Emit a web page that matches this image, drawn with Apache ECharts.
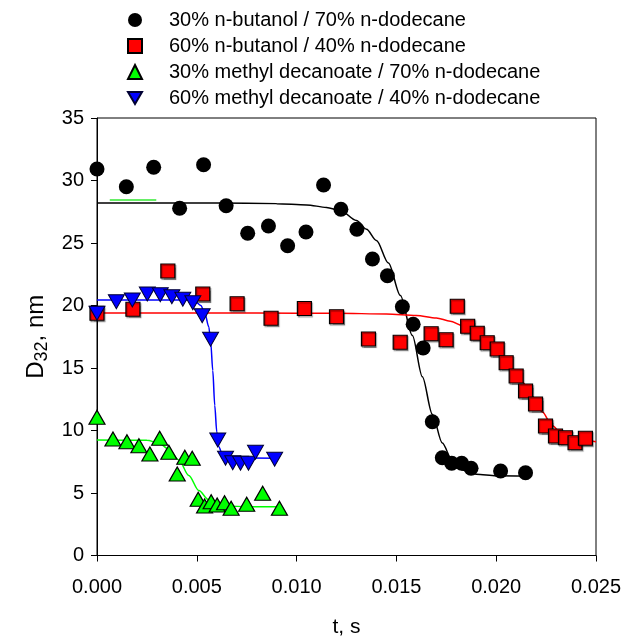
<!DOCTYPE html>
<html>
<head>
<meta charset="utf-8">
<script src="https://cdn.jsdelivr.net/npm/echarts@6/dist/echarts.min.js"></script>
<style>
html,body{margin:0;padding:0;background:#fff;}
#chart{width:623px;height:637px;}
</style>
</head>
<body>
<div id="chart"></div>
<script>
// ---- Data ----
var seriesNames = [
  '30% n-butanol / 70% n-dodecane',
  '60% n-butanol / 40% n-dodecane',
  '30% methyl decanoate / 70% n-dodecane',
  '60% methyl decanoate / 40% n-dodecane'
];

// 30% n-butanol (black circles)
var butanol30_t = [0, 0.00147, 0.00284, 0.00414, 0.00534, 0.00647, 0.00755, 0.00859, 0.00955, 0.01047, 0.01135, 0.01222, 0.01302, 0.0138, 0.01455, 0.0153, 0.01584, 0.01634, 0.0168, 0.0173, 0.01777, 0.01827, 0.01874, 0.02022, 0.02147];
var butanol30_D = [30.92, 29.5, 31.06, 27.78, 31.26, 27.98, 25.78, 26.36, 24.78, 25.88, 29.64, 27.7, 26.1, 23.72, 22.38, 19.9, 18.5, 16.6, 10.7, 7.82, 7.38, 7.38, 6.98, 6.76, 6.62];
var butanol30Fit_t = [0, 0.006, 0.009, 0.0105, 0.0115, 0.0122, 0.0130, 0.0135, 0.0140, 0.0146, 0.0152, 0.0158, 0.0163, 0.0168, 0.0173, 0.0178, 0.0183, 0.0190, 0.0200, 0.0215];
var butanol30Fit_D = [28.2, 28.2, 28.15, 28.05, 27.85, 27.6, 26.8, 26.1, 25.2, 23.4, 20.8, 17.6, 14.3, 11.3, 9.0, 7.55, 6.85, 6.5, 6.38, 6.35];

// 60% n-butanol (red squares)
var butanol60_t = [0, 0.0018, 0.00355, 0.0053, 0.00702, 0.00872, 0.01039, 0.012, 0.0136, 0.01519, 0.01674, 0.01749, 0.01805, 0.01857, 0.01905, 0.01955, 0.02005, 0.0205, 0.021, 0.02147, 0.02197, 0.02247, 0.02297, 0.02347, 0.02395, 0.02447];
var butanol60_D = [19.38, 19.7, 22.76, 20.92, 20.14, 18.98, 19.76, 19.1, 17.32, 17.06, 17.74, 17.26, 19.94, 18.34, 17.78, 17.02, 16.52, 15.42, 14.36, 13.16, 12.12, 10.36, 9.56, 9.42, 9.02, 9.38];
var butanol60Fit_t = [0, 0.008, 0.012, 0.0145, 0.016, 0.0170, 0.0177, 0.0183, 0.0188, 0.0193, 0.0198, 0.0203, 0.0208, 0.0213, 0.0218, 0.0223, 0.0228, 0.0233, 0.0240, 0.0250];
var butanol60Fit_D = [19.4, 19.4, 19.38, 19.32, 19.2, 19.0, 18.75, 18.4, 17.95, 17.35, 16.65, 15.85, 14.95, 13.9, 12.75, 11.5, 10.4, 9.7, 9.3, 9.1];

// 30% methyl decanoate (green triangles)
var md30_t = [0, 0.0008, 0.0015, 0.0021, 0.00265, 0.00314, 0.0036, 0.00402, 0.0044, 0.00477, 0.00507, 0.00539, 0.00572, 0.00602, 0.00639, 0.00672, 0.0075, 0.0083, 0.00914];
var md30_D = [11.06, 9.32, 9.1, 8.78, 8.12, 9.38, 8.26, 6.52, 7.86, 7.78, 4.5, 3.96, 4.3, 4.04, 4.22, 3.78, 4.1, 4.98, 3.78];
var md30Fit_t = [0, 0.0025, 0.0031, 0.0036, 0.0041, 0.0046, 0.0051, 0.0056, 0.0061, 0.0066, 0.0075, 0.0091];
var md30Fit_D = [9.24, 9.22, 9.0, 8.5, 7.64, 6.4, 5.2, 4.45, 4.08, 3.95, 3.91, 3.9];
var md30Stray_t = [0.00064, 0.00297];
var md30Stray_D = [28.44, 28.44];

// 60% methyl decanoate (blue down-triangles)
var md60_t = [0, 0.00097, 0.00177, 0.00252, 0.00317, 0.00375, 0.0043, 0.0048, 0.00527, 0.00569, 0.00605, 0.00644, 0.0068, 0.00719, 0.00759, 0.00794, 0.0089];
var md60_D = [19.38, 20.3, 20.44, 20.92, 20.86, 20.7, 20.5, 20.22, 19.18, 17.3, 9.24, 7.78, 7.42, 7.38, 7.38, 8.26, 7.7];
var md60Fit_t = [0, 0.0045, 0.0049, 0.0052, 0.0054, 0.0056, 0.0057, 0.0058, 0.0059, 0.0060, 0.0061, 0.0063, 0.0066, 0.0090];
var md60Fit_D = [20.45, 20.45, 20.35, 20.0, 19.4, 18.3, 17.0, 14.8, 12.0, 9.9, 8.7, 8.0, 7.8, 7.78];

var xTicks = ['0.000', '0.005', '0.010', '0.015', '0.020', '0.025'];
var yTicks = ['0', '5', '10', '15', '20', '25', '30', '35'];

function pairs(t, d) { return t.map(function (v, i) { return [v, d[i]]; }); }

var FONT = '"Liberation Sans", Arial, sans-serif';
var DOWN_TRI = 'path://M0,0 L20,0 L10,17.3 Z';
var chart = echarts.init(document.getElementById('chart'), null, {renderer: 'canvas'});

var lineBase = {type: 'line', showSymbol: false, symbol: 'none', silent: true, z: 2};
var option = {
  animation: false,
  backgroundColor: '#fff',
  textStyle: {fontFamily: FONT},
  legend: {
    orient: 'vertical',
    left: 122,
    top: 5,
    itemWidth: 14,
    itemHeight: 14,
    itemGap: 6,
    textStyle: {fontFamily: FONT, fontSize: 20, color: '#000', lineHeight: 20, padding: [0, 0, 0, 22]},
    data: [
      {name: seriesNames[0], icon: 'circle'},
      {name: seriesNames[1], icon: 'rect'},
      {name: seriesNames[2], icon: 'triangle'},
      {name: seriesNames[3], icon: DOWN_TRI}
    ]
  },
  grid: {left: 97, right: 27, top: 118, bottom: 81.5, show: true, borderColor: '#000', borderWidth: 1,
    containLabel: false, outerBoundsMode: 'none'},
  xAxis: {
    type: 'value', min: 0, max: 0.025, interval: 0.005,
    name: 't, s', nameLocation: 'middle', nameGap: 61,
    nameTextStyle: {fontFamily: FONT, fontSize: 21, color: '#000'},
    axisLine: {show: true, onZero: false, lineStyle: {color: '#000', width: 1}},
    axisTick: {show: true, inside: false, length: 6, lineStyle: {color: '#000'}},
    axisLabel: {margin: 22, fontFamily: FONT, fontSize: 20, color: '#000',
      formatter: function (v) { return xTicks[Math.round(v / 0.005)]; }},
    splitLine: {show: false}
  },
  yAxis: {
    type: 'value', min: 0, max: 35, interval: 5,
    name: '{a|D}{b|32}{a|, nm}', nameLocation: 'middle', nameGap: 46,
    nameTextStyle: {fontFamily: FONT, fontSize: 24, color: '#000',
      rich: {
        a: {fontFamily: FONT, fontSize: 24, color: '#000'},
        b: {fontFamily: FONT, fontSize: 18, color: '#000', padding: [11, 0, 0, 0]}
      }},
    axisLine: {show: true, onZero: false, lineStyle: {color: '#000', width: 1}},
    axisTick: {show: true, inside: false, length: 6, lineStyle: {color: '#000'}},
    axisLabel: {margin: 13, fontFamily: FONT, fontSize: 20, color: '#000',
      formatter: function (v) { return yTicks[Math.round(v / 5)]; }},
    splitLine: {show: false}
  },
  series: [
    Object.assign({}, lineBase, {name: 'fit0', data: pairs(butanol30Fit_t, butanol30Fit_D), smooth: 0.3, smoothMonotone: 'x', lineStyle: {color: '#000', width: 1.5}}),
    Object.assign({}, lineBase, {name: 'fit1', data: pairs(butanol60Fit_t, butanol60Fit_D), smooth: 0.3, smoothMonotone: 'x', lineStyle: {color: '#ff0000', width: 1.5}}),
    Object.assign({}, lineBase, {name: 'fit2', data: pairs(md30Fit_t, md30Fit_D), smooth: 0.3, smoothMonotone: 'x', lineStyle: {color: '#00ff00', width: 1.5}}),
    Object.assign({}, lineBase, {name: 'stray2', data: pairs(md30Stray_t, md30Stray_D), lineStyle: {color: '#66ee66', width: 2}}),
    Object.assign({}, lineBase, {name: 'fit3', data: pairs(md60Fit_t, md60Fit_D), smooth: 0.3, smoothMonotone: 'x', lineStyle: {color: '#0000ff', width: 1.5}}),
    {
      name: seriesNames[1], type: 'scatter', symbol: 'rect', symbolSize: 14, z: 3,
      data: pairs(butanol60_t, butanol60_D),
      itemStyle: {color: '#ff0000', opacity: 1, borderColor: '#000', borderWidth: 1.2, shadowColor: 'rgba(0,0,0,0.35)', shadowOffsetX: 1, shadowOffsetY: 1.5, shadowBlur: 1}
    },
    {
      name: seriesNames[0], type: 'scatter', symbol: 'circle', symbolSize: 15, z: 4,
      data: pairs(butanol30_t, butanol30_D),
      itemStyle: {color: '#000', opacity: 1, borderColor: '#000', borderWidth: 0}
    },
    {
      name: seriesNames[2], type: 'scatter', symbol: 'triangle', symbolSize: [16, 14], z: 5,
      data: pairs(md30_t, md30_D),
      itemStyle: {color: '#00ff00', opacity: 1, borderColor: '#000', borderWidth: 1.2}
    },
    {
      name: seriesNames[3], type: 'scatter', symbol: DOWN_TRI, symbolSize: [16, 14], z: 6,
      data: pairs(md60_t, md60_D),
      itemStyle: {color: '#0000ff', opacity: 1, borderColor: '#000033', borderWidth: 1}
    }
  ]
};
chart.setOption(option);
</script>
</body>
</html>
